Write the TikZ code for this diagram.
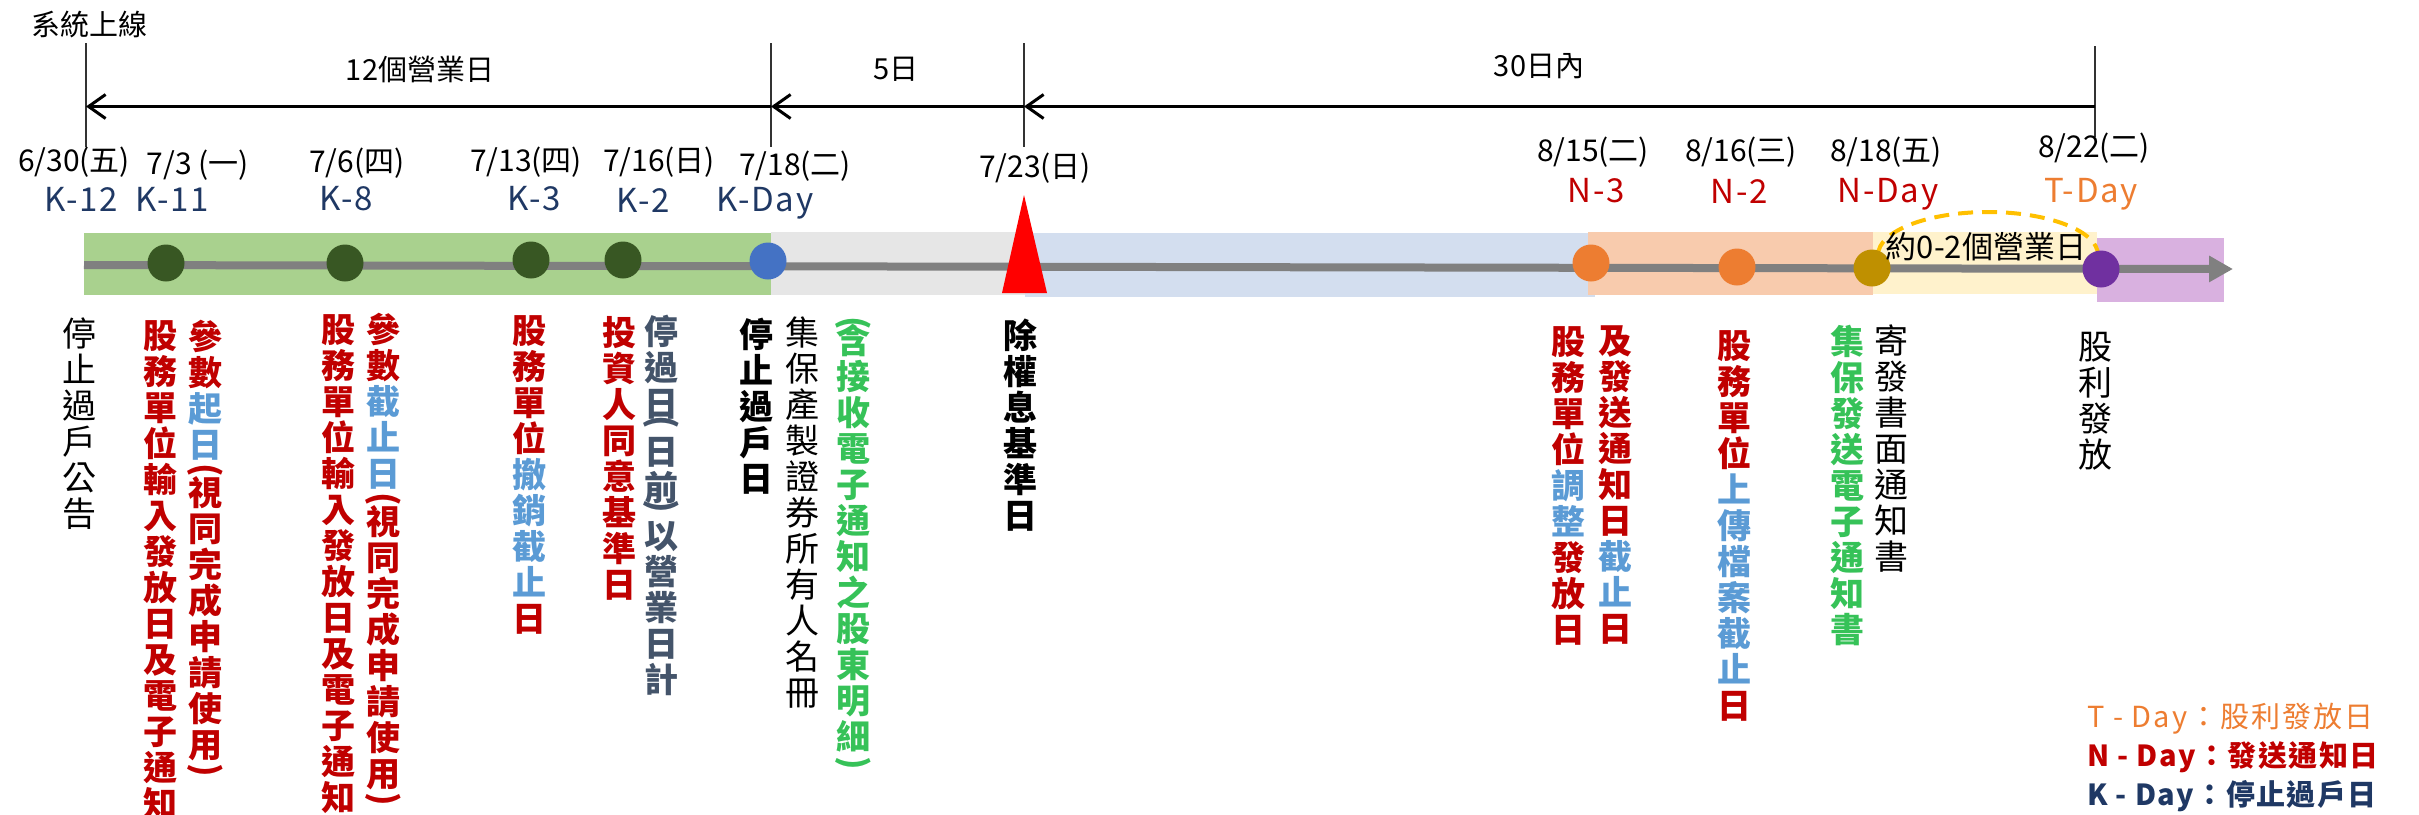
\documentclass[tikz,border=0pt]{standalone}
\usepackage{fontspec}
\usepackage{graphicx}
\setmainfont{Noto Sans CJK TC}
\usetikzlibrary{arrows.meta}
\definecolor{cred}{HTML}{C00000}
\definecolor{cblue}{HTML}{5B9BD5}
\definecolor{cgreen}{HTML}{36C258}
\definecolor{cslate}{HTML}{44546A}
\definecolor{cnavy}{HTML}{1F3864}
\definecolor{corange}{HTML}{ED7D31}
\definecolor{bgreen}{HTML}{A9D18E}
\definecolor{bgray}{HTML}{E6E6E6}
\definecolor{bblue}{HTML}{D3DEEF}
\definecolor{borange}{HTML}{F8CBAD}
\definecolor{byellow}{HTML}{FFF2CC}
\definecolor{bpurple}{HTML}{D9B1E0}
\definecolor{ddgreen}{HTML}{385723}
\definecolor{dblue}{HTML}{4472C4}
\definecolor{dorange}{HTML}{ED7D31}
\definecolor{dgold}{HTML}{BF9000}
\definecolor{dpurple}{HTML}{7030A0}
\definecolor{lgray}{HTML}{808080}
\definecolor{arcgold}{HTML}{FFC000}
\newcommand\vlp{\rotatebox[origin=c]{-90}{(}}
\newcommand\vrp{\rotatebox[origin=c]{-90}{)}}
\begin{document}
\begin{tikzpicture}[x=1pt,y=-1pt,
  vcol/.style={anchor=north, align=center, inner sep=0pt, font=\fontsize{34}{36}\selectfont},
  vbold/.style={vcol, font=\fontsize{34}{36}\selectfont\bfseries},
  datelbl/.style={inner sep=0pt, font=\fontsize{30}{32}\selectfont},
  klbl/.style={inner sep=0pt, font=\fontsize{33}{35}\selectfont\addfontfeature{LetterSpace=5}},
  toplbl/.style={inner sep=0pt, font=\fontsize{29}{31}\selectfont},
  legend/.style={anchor=west, inner sep=0pt, font=\fontsize{29}{31}\selectfont\addfontfeature{LetterSpace=7}},
  legendb/.style={legend, font=\fontsize{29}{31}\selectfont\bfseries\addfontfeature{LetterSpace=5}},
  dot/.style={circle, inner sep=0pt, minimum size=37pt},
  tick/.style={line width=1.5pt, black!80},
  span/.style={line width=3pt, black, -{Straight Barb[length=17pt,width=24pt]}}
]
\useasboundingbox (0,0) rectangle (2419,814);
\clip (0,0) rectangle (2419,814);

% ---------- top span arrows ----------
\node[toplbl] (sys) at (89,24) {系統上線};
\coordinate (t1a) at (86,43);   \coordinate (t1b) at (86,147);
\coordinate (t2a) at (771,43);  \coordinate (t2b) at (771,147);
\coordinate (t3a) at (1024,43); \coordinate (t3b) at (1024,147);
\coordinate (t4a) at (2095,46); \coordinate (t4b) at (2095,137);
\draw[tick] (t1a) -- (t1b);
\draw[tick] (t2a) -- (t2b);
\draw[tick] (t3a) -- (t3b);
\draw[tick] (t4a) -- (t4b);
\coordinate (a1) at (86,106.5);
\coordinate (a2) at (771,106.5);
\coordinate (a3) at (1024,106.5);
\coordinate (a4) at (2095,106.5);
\draw[span] (a2) -- (a1);
\draw[span] (a3) -- (a2);
\draw[span] (a4) -- (a3);
\node[toplbl] (s12) at (420,69) {12個營業日};
\node[toplbl] (s5) at (896,69) {5日};
\node[toplbl] (s30) at (1539,66) {30日內};

% ---------- dates ----------
\node[datelbl] (dt1) at (74,162) {6/30(五)};
\node[datelbl] (dt2) at (198,165) {7/3 (一)};
\node[datelbl] (dt3) at (357,163) {7/6(四)};
\node[datelbl] (dt4) at (526,162) {7/13(四)};
\node[datelbl] (dt5) at (659,162) {7/16(日)};
\node[datelbl] (dt6) at (795,166) {7/18(二)};
\node[datelbl] (dt7) at (1035,168) {7/23(日)};
\node[datelbl] (dt8) at (1593,152) {8/15(二)};
\node[datelbl] (dt9) at (1741,152) {8/16(三)};
\node[datelbl] (dt10) at (1886,152) {8/18(五)};
\node[datelbl] (dt11) at (2094,148) {8/22(二)};

\node[klbl, text=cnavy] (k12) at (81,199) {K-12};
\node[klbl, text=cnavy] (k11) at (172,199) {K-11};
\node[klbl, text=cnavy] (k8) at (346,199) {K-8};
\node[klbl, text=cnavy] (k3) at (534,199) {K-3};
\node[klbl, text=cnavy] (k2) at (643,200) {K-2};
\node[klbl, text=cnavy] (kd) at (765,203) {K-Day};
\node[klbl, text=cred] (n3) at (1596,191) {N-3};
\node[klbl, text=cred] (n2) at (1739,191) {N-2};
\node[klbl, text=cred] (nd) at (1888,194) {N-Day};
\node[klbl, text=corange] (td) at (2091,194) {T-Day};

% ---------- bands ----------
\fill[bgreen] (84,233) rectangle (771,295);
\fill[bgray] (771,232) rectangle (1026,295);
\fill[bblue] (1025,233) rectangle (1595,297);
\fill[borange] (1588,232) rectangle (1873,295);
\fill[byellow] (1873,232) rectangle (2097,294);
\fill[bpurple] (2097,238) rectangle (2224,302);

% ---------- timeline ----------
\coordinate (L0) at (84,265);
\coordinate (L1) at (2233,269);
\draw[line width=8pt, lgray, -{Triangle[length=24pt,width=25pt]}] (L0) -- (L1);

\draw[arcgold, line width=4pt, dash pattern=on 15pt off 9pt]
  (1878,255) arc[start angle=180, end angle=360, x radius=110, y radius=43];

\fill[red] (1002,293) -- (1047,293) -- (1024,195) -- cycle;

\node[dot, fill=ddgreen] (p1) at (166,263) {};
\node[dot, fill=ddgreen] (p2) at (345,263) {};
\node[dot, fill=ddgreen] (p3) at (531,260) {};
\node[dot, fill=ddgreen] (p4) at (623,260) {};
\node[dot, fill=dblue] (p5) at (768,261) {};
\node[dot, fill=dorange] (p6) at (1591,263) {};
\node[dot, fill=dorange] (p7) at (1737,267) {};
\node[dot, fill=dgold] (p8) at (1872,268) {};
\node[dot, fill=dpurple] (p9) at (2101,269) {};

\node[inner sep=0pt, font=\fontsize{31}{33}\selectfont] (gap) at (1986,247) {約0-2個營業日};

% ---------- vertical texts ----------
\node[vcol] (v1) at (79,318) {停\\止\\過\\戶\\公\\告};
\node[vbold, text=cred] (v2) at (160,320)
  {股\\務\\單\\位\\輸\\入\\發\\放\\日\\及\\電\\子\\通\\知};
\node[vbold, text=cred] (v3) at (205,320)
  {參\\數\\{\color{cblue}起}\\{\color{cblue}日}\\[-12pt]\vlp\\[-12pt]視\\同\\完\\成\\申\\請\\使\\用\\[-12pt]\vrp};
\node[vbold, text=cred] (v4) at (338,314)
  {股\\務\\單\\位\\輸\\入\\發\\放\\日\\及\\電\\子\\通\\知};
\node[vbold, text=cred] (v5) at (383,313)
  {參\\數\\{\color{cblue}截}\\{\color{cblue}止}\\{\color{cblue}日}\\[-12pt]\vlp\\[-12pt]視\\同\\完\\成\\申\\請\\使\\用\\[-12pt]\vrp};
\node[vbold, text=cred] (v6) at (529,315)
  {股\\務\\單\\位\\{\color{cblue}撤}\\{\color{cblue}銷}\\{\color{cblue}截}\\{\color{cblue}止}\\日};
\node[vbold, text=cred] (v7) at (619,316)
  {投\\資\\人\\同\\意\\基\\準\\日};
\node[vbold, text=cslate] (v8) at (661,315)
  {停\\過\\日\\[-20pt]\vlp\\[-4pt]日\\前\\[-20pt]\vrp\\[-4pt]以\\營\\業\\日\\計};
\node[vbold] (v9) at (756,318) {停\\止\\過\\戶\\日};
\node[vcol] (v10) at (802,317) {集\\保\\產\\製\\證\\券\\所\\有\\人\\名\\冊};
\node[vbold, text=cgreen] (v11) at (853,316)
  {\vlp\\[-16pt]含\\接\\收\\電\\子\\通\\知\\之\\股\\東\\明\\細\\[-12pt]\vrp};
\node[vbold] (v12) at (1020,319) {除\\權\\息\\基\\準\\日};
\node[vbold, text=cred] (v13) at (1568,326)
  {股\\務\\單\\位\\{\color{cblue}調}\\{\color{cblue}整}\\發\\放\\日};
\node[vbold, text=cred] (v14) at (1615,326)
  {及\\發\\送\\通\\知\\日\\{\color{cblue}截}\\{\color{cblue}止}\\日};
\node[vbold, text=cred] (v15) at (1734,330)
  {股\\務\\單\\位\\{\color{cblue}上}\\{\color{cblue}傳}\\{\color{cblue}檔}\\{\color{cblue}案}\\{\color{cblue}截}\\{\color{cblue}止}\\日};
\node[vbold, text=cgreen] (v16) at (1847,325)
  {集\\保\\發\\送\\電\\子\\通\\知\\書};
\node[vcol] (v17) at (1891,325) {寄\\發\\書\\面\\通\\知\\書};
\node[vcol] (v18) at (2095,332) {股\\利\\發\\放};

% ---------- legend ----------
\node[legend, text=corange] (lgT) at (2087,719) {T - Day：股利發放日};
\node[legendb, text=cred] (lgN) at (2087,757) {N - Day：發送通知日};
\node[legendb, text=cnavy] (lgK) at (2087,796) {K - Day：停止過戶日};
\end{tikzpicture}
\end{document}
